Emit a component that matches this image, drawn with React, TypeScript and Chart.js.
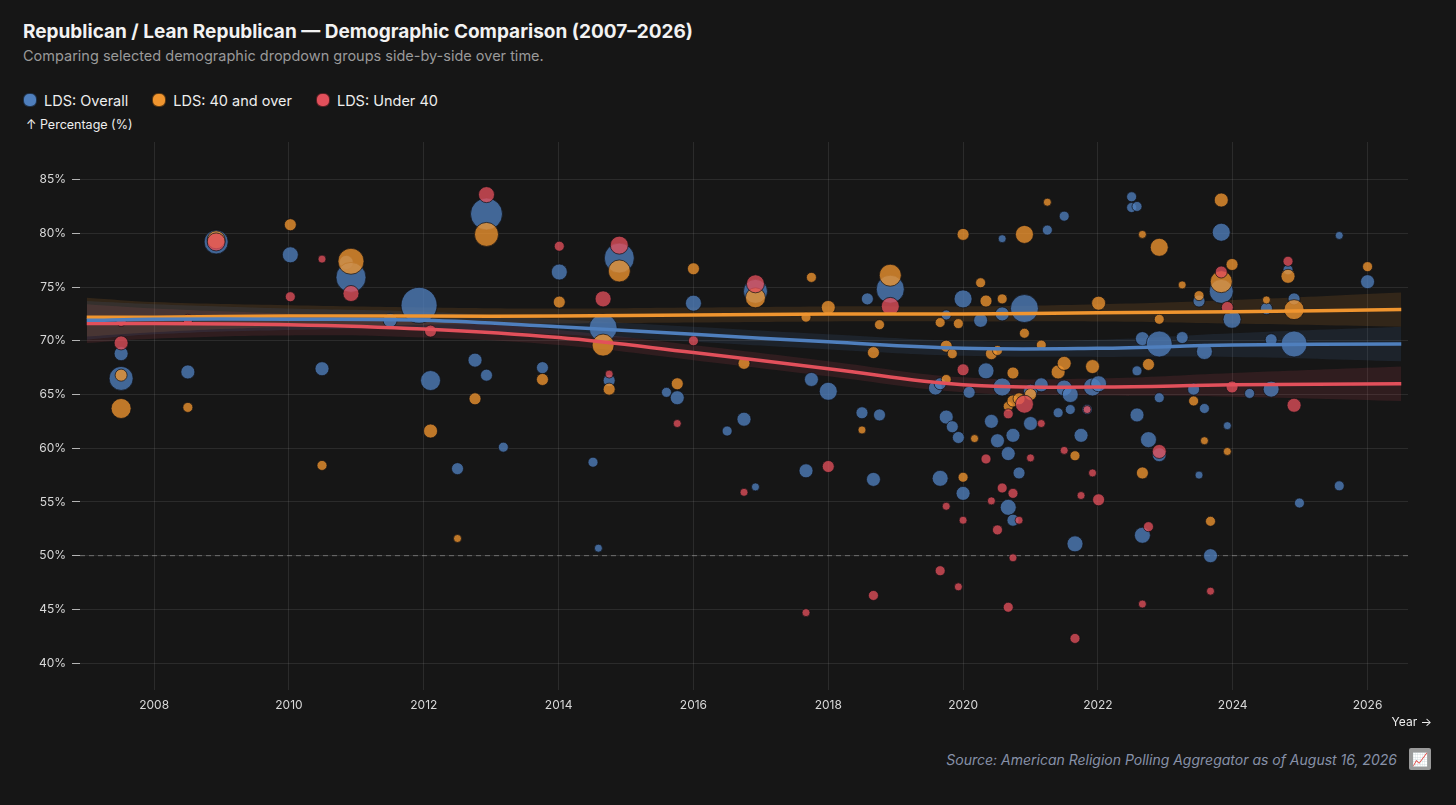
import React, { useEffect, useRef } from "react";
import { Chart, registerables } from "chart.js";
Chart.register(...registerables);

// [year, percentage, bubble radius]
const overall: [number, number, number][] = [
[2007.51,66.5,12],[2007.51,68.8,7],[2008.5,67.1,7],[2008.92,79.2,12],[2010.02,78.0,8],[2010.49,67.4,7],[2010.85,77.3,7],[2010.92,75.9,15],
[2011.5,71.9,7],[2011.93,73.3,18],[2012.1,66.3,10],[2012.5,58.1,6],[2012.76,68.2,7],[2012.93,66.8,6],[2012.93,81.8,16],[2013.18,60.1,5],
[2013.76,67.5,6],[2014.01,76.4,8],[2014.51,58.7,5],[2014.59,50.7,4],[2014.66,71.2,14],[2014.75,66.3,6],[2014.9,77.7,15],[2015.6,65.2,5],
[2015.76,64.7,7],[2016.0,73.5,8],[2016.5,61.6,5],[2016.75,62.7,7],[2016.92,56.4,4],[2016.92,74.6,12],[2017.67,57.9,7],[2017.75,66.4,7],
[2018.0,65.3,9],[2018.5,63.3,6],[2018.58,73.9,6],[2018.67,57.1,7],[2018.76,63.1,6],[2018.92,74.8,14],[2019.59,65.6,7],[2019.66,57.2,8],
[2019.66,66.0,6],[2019.75,72.4,5],[2019.75,62.9,7],[2019.84,62.0,6],[2019.93,61.0,6],[2020.0,73.9,9],[2020.0,55.8,7],[2020.09,65.2,6],
[2020.26,71.9,7],[2020.34,67.2,8],[2020.42,62.5,7],[2020.51,60.7,7],[2020.58,79.5,4],[2020.58,72.5,7],[2020.58,65.7,9],[2020.67,59.5,7],
[2020.67,54.5,8],[2020.74,61.2,7],[2020.74,53.3,6],[2020.83,57.7,6],[2020.91,73.0,14],[2021.0,65.3,7],[2021.0,62.3,7],[2021.16,65.9,7],
[2021.25,80.3,5],[2021.41,63.3,5],[2021.5,81.6,5],[2021.5,65.6,8],[2021.59,65.0,8],[2021.59,63.6,5],[2021.66,51.1,8],[2021.75,61.2,7],
[2021.84,63.6,5],[2021.92,65.7,9],[2022.01,66.0,8],[2022.5,83.4,5],[2022.5,82.4,5],[2022.58,82.5,5],[2022.58,67.2,5],[2022.58,63.1,7],
[2022.66,70.2,7],[2022.66,51.9,8],[2022.75,60.8,8],[2022.91,69.7,13],[2022.91,64.7,5],[2022.91,59.4,7],[2023.25,70.3,6],[2023.42,65.5,6],
[2023.5,57.5,4],[2023.5,73.7,6],[2023.58,63.7,5],[2023.58,69.0,8],[2023.67,50.0,7],[2023.83,80.1,9],[2023.83,74.6,12],[2023.92,62.1,4],
[2023.99,72.0,9],[2024.25,65.1,5],[2024.5,73.0,6],[2024.57,70.1,6],[2024.57,65.5,8],[2024.82,76.6,5],[2024.91,73.9,6],[2024.91,69.7,13],
[2024.99,54.9,5],[2025.58,79.8,4],[2025.58,56.5,5],[2026.0,75.5,7]];

const over40: [number, number, number][] = [
[2007.51,63.7,10],[2007.51,66.8,6],[2008.5,63.8,5],[2008.92,79.4,9],[2010.02,80.8,6],[2010.49,58.4,5],[2010.92,77.4,13],[2012.1,61.6,7],
[2012.5,51.6,4],[2012.76,64.6,6],[2012.93,79.9,12],[2013.76,66.4,6],[2014.01,73.6,6],[2014.66,69.6,11],[2014.75,65.5,6],[2014.9,76.5,11],
[2015.76,66.0,6],[2016.0,76.7,6],[2016.75,67.9,6],[2016.92,74.0,10],[2017.75,75.9,5],[2017.67,72.2,5],[2018.0,73.1,7],[2018.5,61.7,4],
[2018.76,71.5,5],[2018.67,68.9,6],[2018.92,76.1,11],[2019.66,71.7,5],[2019.75,69.5,6],[2019.75,66.4,5],[2019.84,68.8,5],[2019.93,71.6,5],
[2020.0,79.9,6],[2020.0,57.3,5],[2020.17,60.9,4],[2020.26,75.4,5],[2020.34,73.7,6],[2020.42,68.8,6],[2020.51,69.1,5],[2020.58,73.9,5],
[2020.67,63.9,5],[2020.74,67.0,6],[2020.74,64.4,6],[2020.83,64.6,6],[2020.91,79.9,9],[2020.91,70.7,5],[2021.0,65.0,6],[2021.16,69.6,5],
[2021.25,82.9,4],[2021.41,67.1,7],[2021.5,67.9,7],[2021.66,59.3,5],[2021.92,67.6,7],[2022.01,73.5,7],[2022.66,57.7,6],[2022.66,79.9,4],
[2022.75,67.8,6],[2022.91,78.7,9],[2022.91,72.0,5],[2023.25,75.2,4],[2023.42,64.4,5],[2023.5,74.2,5],[2023.58,60.7,4],[2023.67,53.2,5],
[2023.83,83.1,7],[2023.83,75.5,11],[2023.92,59.7,4],[2023.99,77.1,6],[2024.5,73.8,4],[2024.82,76.0,7],[2024.91,72.9,10],[2026.0,76.9,5]];

const under40: [number, number, number][] = [
[2007.51,71.8,5],[2007.51,69.8,7],[2008.5,72.0,5],[2008.92,79.2,9],[2010.02,74.1,5],[2010.49,77.6,4],[2010.92,74.4,8],[2012.1,70.9,6],
[2012.93,83.6,8],[2014.01,78.8,5],[2014.66,73.9,8],[2014.75,66.9,4],[2014.9,78.9,9],[2015.76,62.3,4],[2016.0,70.0,5],[2016.75,55.9,4],
[2016.92,75.3,9],[2017.67,44.7,4],[2018.0,58.3,6],[2018.67,46.3,5],[2018.92,73.2,9],[2019.66,48.6,5],[2019.75,54.6,4],[2019.93,47.1,4],
[2020.0,53.3,4],[2020.0,67.3,6],[2020.34,59.0,5],[2020.42,55.1,4],[2020.51,52.4,5],[2020.58,56.3,5],[2020.67,63.2,5],[2020.67,45.2,5],
[2020.74,49.8,4],[2020.74,55.8,5],[2020.83,53.3,4],[2020.91,64.1,9],[2021.0,59.1,4],[2021.16,62.3,4],[2021.5,59.8,4],[2021.66,42.3,5],
[2021.75,55.6,4],[2021.84,63.6,4],[2021.92,57.7,4],[2022.01,55.2,6],[2022.75,52.7,5],[2022.66,45.5,4],[2022.91,59.7,7],[2023.67,46.7,4],
[2023.83,76.4,6],[2023.92,73.1,6],[2023.99,65.7,6],[2024.82,77.4,5],[2024.91,64.0,7]];

const trendYears = [2007.0, 2008, 2010, 2012, 2014, 2016, 2018, 2020, 2022, 2024, 2026.5];
const trendOverall = [71.9, 72.0, 72.0, 71.9, 71.3, 70.6, 69.9, 69.3, 69.3, 69.6, 69.7];
const trendOver40 = [72.2, 72.2, 72.3, 72.3, 72.3, 72.4, 72.5, 72.5, 72.6, 72.7, 72.9];
const trendUnder40 = [71.6, 71.6, 71.5, 71.1, 70.3, 68.9, 67.4, 65.9, 65.7, 65.9, 66.0];
const bandWidth = [1.8, 1.4, 1.0, 0.8, 0.7, 0.7, 0.7, 0.7, 0.8, 1.1, 1.6];

const xTicks = [2008, 2010, 2012, 2014, 2016, 2018, 2020, 2022, 2024, 2026];
const yTicks = [40, 45, 50, 55, 60, 65, 70, 75, 80, 85];

const BLUE = "#4f7fbd", ORANGE = "#f0952f", RED = "#e2505b";

function hexA(h: string, a: number) {
  const n = parseInt(h.slice(1), 16);
  return `rgba(${(n >> 16) & 255},${(n >> 8) & 255},${n & 255},${a})`;
}

export default function App() {
  const ref = useRef<HTMLCanvasElement>(null);
  useEffect(() => {
    document.body.style.margin = "0";
    document.body.style.background = "#161616";
    const bub = (label: string, d: [number, number, number][], c: string, order: number) => ({
      type: "bubble" as const, label, order,
      data: d.map(([x, y, r]) => ({ x, y, r })),
      backgroundColor: hexA(c, 0.78), borderColor: "rgba(15,15,20,0.7)", borderWidth: 1,
    });
    const line = (vals: number[], c: string) => ({
      type: "line" as const, order: 1, data: trendYears.map((x, i) => ({ x, y: vals[i] })),
      borderColor: c, borderWidth: 3.5, pointRadius: 0, tension: 0.4, fill: false,
    });
    const band = (vals: number[], c: string) => [
      { type: "line" as const, order: 10, data: trendYears.map((x, i) => ({ x, y: vals[i] + bandWidth[i] })),
        borderColor: "transparent", pointRadius: 0, tension: 0.4, fill: false },
      { type: "line" as const, order: 10, data: trendYears.map((x, i) => ({ x, y: vals[i] - bandWidth[i] })),
        borderColor: "transparent", pointRadius: 0, tension: 0.4, fill: "-1", backgroundColor: hexA(c, 0.13) },
    ];
    const chart = new Chart(ref.current!, {
      data: {
        datasets: [
          { type: "line", order: 11, data: [{ x: 2006.9, y: 50 }, { x: 2026.6, y: 50 }],
            borderColor: "rgba(200,200,200,0.45)", borderWidth: 1, borderDash: [5, 4], pointRadius: 0 } as any,
          ...band(trendOverall, BLUE), ...band(trendOver40, ORANGE), ...band(trendUnder40, RED),
          bub("LDS: Overall", overall, BLUE, 7), bub("LDS: 40 and over", over40, ORANGE, 6), bub("LDS: Under 40", under40, RED, 5),
          line(trendOverall, BLUE), line(trendOver40, ORANGE), line(trendUnder40, RED),
        ] as any,
      },
      options: {
        animation: false, responsive: false, maintainAspectRatio: false,
        layout: { padding: { left: 0, right: 48, top: 2, bottom: 0 } },
        plugins: { legend: { display: false }, tooltip: { enabled: false } },
        scales: {
          x: {
            type: "linear", min: 2006.9, max: 2026.6,
            afterBuildTicks: (s: any) => { s.ticks = xTicks.map((v) => ({ value: v })); },
            afterFit: (s: any) => { s.height = 45; },
            ticks: { color: "#d8d8d8", font: { family: "Inter", size: 12 }, padding: 8, callback: (v: any) => String(v) },
            grid: { color: "rgba(255,255,255,0.09)", drawTicks: false },
            border: { display: false },
          },
          y: {
            type: "linear", min: 37.5, max: 88.5,
            afterBuildTicks: (s: any) => { s.ticks = yTicks.map((v) => ({ value: v })); },
            afterFit: (s: any) => { s.width = 80; },
            ticks: { color: "#d8d8d8", font: { family: "Inter", size: 12 }, padding: 6, callback: (v: any) => v + "%" },
            grid: { color: "rgba(255,255,255,0.09)", tickColor: "rgba(220,220,220,0.8)", tickLength: 8 },
            border: { display: false },
          },
        },
      } as any,
    });
    return () => chart.destroy();
  }, []);

  const dot = (c: string) => (
    <span style={{ display: "inline-block", width: 12, height: 12, borderRadius: 6, background: c, border: "1px solid rgba(0,0,0,0.6)", marginRight: 7, verticalAlign: -1 }} />
  );
  return (
    <div style={{ position: "relative", width: 1456, height: 805, background: "#161616", fontFamily: "Inter, 'Noto Sans', sans-serif", color: "#eee", overflow: "hidden" }}>
      <div style={{ position: "absolute", left: 23, top: 20, fontSize: 19, fontWeight: 700, color: "#f2f2f2" }}>
        Republican / Lean Republican — Demographic Comparison (2007–2026)
      </div>
      <div style={{ position: "absolute", left: 23, top: 47, fontSize: 14.5, color: "#9a9a9a" }}>
        Comparing selected demographic dropdown groups side-by-side over time.
      </div>
      <div style={{ position: "absolute", left: 23, top: 92, fontSize: 14.5, color: "#eee", display: "flex", gap: 24 }}>
        <span>{dot(BLUE)}LDS: Overall</span>
        <span>{dot(ORANGE)}LDS: 40 and over</span>
        <span>{dot(RED)}LDS: Under 40</span>
      </div>
      <div style={{ position: "absolute", left: 26, top: 117, fontSize: 12.5, color: "#eee" }}>↑ Percentage (%)</div>
      <canvas ref={ref} width={1456} height={612} style={{ position: "absolute", left: 0, top: 123, width: 1456, height: 612 }} />
      <div style={{ position: "absolute", right: 24, top: 714, fontSize: 12, color: "#eee" }}>Year →</div>
      <div style={{ position: "absolute", right: 59, top: 751, fontSize: 14, fontStyle: "italic", color: "#8791a8" }}>
        Source: American Religion Polling Aggregator as of August 16, 2026
      </div>
      <div style={{ position: "absolute", left: 1409, top: 748, width: 22, height: 22, background: "#9a9a9a", borderRadius: 2, display: "flex", alignItems: "center", justifyContent: "center", fontSize: 13, color: "#333" }}>📈</div>
    </div>
  );
}
